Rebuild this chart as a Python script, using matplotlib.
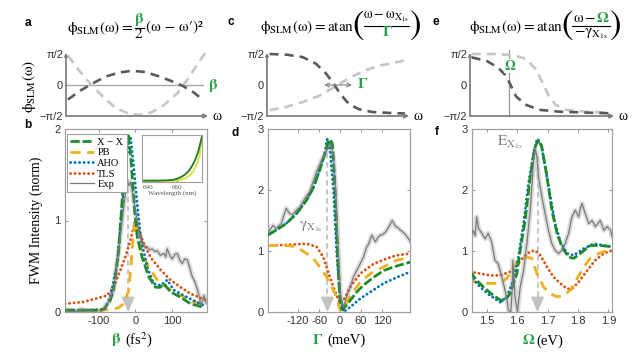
import matplotlib
matplotlib.use('Agg')
import matplotlib.pyplot as plt
from matplotlib.lines import Line2D

plt.rcParams['mathtext.fontset'] = 'custom'
plt.rcParams['mathtext.rm'] = 'STIXGeneral'
plt.rcParams['mathtext.it'] = 'STIXGeneral'
plt.rcParams['mathtext.bf'] = 'STIXGeneral:bold'
plt.rcParams['font.family'] = ['Liberation Sans', 'DejaVu Sans']

W, H = 639, 358
fig = plt.figure(figsize=(W / 100, H / 100), dpi=100)

# ---------------- data: top phase panels (x normalised 0..1, phase in units of pi/2) ----
a_dark_t = [0.014, 0.097, 0.18, 0.287, 0.382, 0.477, 0.572, 0.667, 0.762, 0.846, 0.929, 0.988]
a_dark_v = [-0.47, -0.2, 0.02, 0.27, 0.4, 0.46, 0.42, 0.29, 0.13, -0.03, -0.25, -0.47]
a_light_t = [0.014, 0.097, 0.18, 0.264, 0.359, 0.454, 0.537, 0.62, 0.715, 0.81, 0.881, 0.952, 1.012]
a_light_v = [0.95, 0.46, 0.02, -0.36, -0.74, -0.92, -0.97, -0.88, -0.63, -0.25, 0.18, 0.67, 1.05]

c_dark_t = [0.019, 0.139, 0.258, 0.354, 0.426, 0.486, 0.533, 0.593, 0.665, 0.761, 0.880, 1.0]
c_dark_v = [1.0, 0.98, 0.9, 0.69, 0.38, 0.02, -0.3, -0.61, -0.78, -0.87, -0.9, -0.92]
c_light_t = [0.019, 0.139, 0.258, 0.378, 0.498, 0.593, 0.713, 0.833, 1.0]
c_light_v = [-0.81, -0.71, -0.55, -0.35, -0.04, 0.22, 0.48, 0.64, 0.79]

e_dark_t = [0.012, 0.118, 0.2, 0.259, 0.294, 0.329, 0.4, 0.494, 0.635, 0.824, 0.988]
e_dark_v = [0.89, 0.78, 0.56, 0.29, -0.04, -0.37, -0.64, -0.8, -0.86, -0.89, -0.91]
e_light_t = [0.012, 0.165, 0.306, 0.4, 0.471, 0.518, 0.565, 0.612, 0.682, 0.824, 0.988]
e_light_v = [1.0, 1.0, 0.97, 0.84, 0.51, 0.07, -0.37, -0.64, -0.8, -0.86, -0.89]
e_omega_t = 0.282

# ---------------- data: panel b (beta, fs^2) ----------------
b_xx_x = [-193, -150, -110, -87, -70, -60, -46, -34, -27, -20, -14, -9, -2, 5, 18, 37, 55, 68, 78, 96, 124, 151, 188]
b_xx_y = [0.02, 0.02, 0.02, 0.03, 0.12, 0.24, 0.67, 1.37, 1.7, 1.93, 1.75, 1.48, 1.1, 0.82, 0.6, 0.38, 0.27, 0.27, 0.31, 0.22, 0.16, 0.09, 0.05]
b_aho_x = [-193, -120, -85, -69, -50, -37, -25, -14, -5, 0, 14, 32, 50, 69, 87, 105, 142, 188]
b_aho_y = [0.02, 0.02, 0.03, 0.16, 0.53, 1.11, 1.66, 1.92, 1.6, 1.37, 0.82, 0.49, 0.31, 0.29, 0.35, 0.24, 0.16, 0.07]
b_pb_x = [-193, -100, -60, -45, -32, -18, -9, -2, 9, 23, 41, 60, 78, 96, 124, 160, 193]
b_pb_y = [0.02, 0.02, 0.03, 0.05, 0.09, 0.24, 0.67, 1.0, 0.82, 0.6, 0.46, 0.35, 0.29, 0.24, 0.18, 0.11, 0.08]
b_tls_x = [-193, -142, -105, -78, -60, -41, -28, -14, -2, 9, 23, 41, 69, 96, 124, 151, 193]
b_tls_y = [0.09, 0.11, 0.15, 0.18, 0.27, 0.46, 0.6, 0.78, 0.98, 0.89, 0.75, 0.6, 0.46, 0.35, 0.27, 0.2, 0.13]
b_exp_x = [-193, -180, -165, -150, -135, -120, -105, -95, -85, -75, -60, -46, -32, -23, -18, -14, -9, 0, 9, 18, 25,
           32, 39, 46, 53, 60, 68, 78, 83, 87, 94, 101, 108, 115, 121, 128, 135, 142, 149, 156, 163, 170, 176, 179,
           184, 188, 193]
b_exp_y = [0.03, 0.01, 0.0, 0.03, 0.01, 0.02, -0.02, 0.0, 0.05, 0.1, 0.24, 0.67, 1.15, 1.44, 1.38, 1.42, 1.33, 1.11,
           0.89, 0.75, 0.72, 0.71, 0.68, 0.69, 0.66, 0.67, 0.62, 0.64, 0.6, 0.69, 0.62, 0.58, 0.63, 0.64, 0.57, 0.53,
           0.58, 0.57, 0.48, 0.38, 0.33, 0.24, 0.15, 0.07, 0.12, 0.18, 0.1]
b_arrow = (-20, 1.45)

inset_wl_dark = [635.5, 645, 652, 657, 660, 663, 666, 668.5, 671, 673, 675, 677.6]
inset_dark = [0.03, 0.03, 0.035, 0.045, 0.07, 0.11, 0.17, 0.25, 0.37, 0.5, 0.67, 1.0]
inset_wl_light = [635.5, 650, 657, 661, 664, 667, 670, 672, 674, 676, 677.6]
inset_light = [0.02, 0.02, 0.025, 0.04, 0.06, 0.1, 0.17, 0.26, 0.4, 0.6, 0.98]

# ---------------- data: panel d (Gamma, meV) ----------------
d_xx_x = [-207, -183, -154, -125, -96, -77, -58, -43, -34, -29, -22, -16, -10, -5, 0, 5, 14, 29, 48, 67, 96, 125, 154, 202]
d_xx_y = [1.26, 1.34, 1.45, 1.61, 1.83, 2.03, 2.33, 2.6, 2.79, 2.83, 2.76, 2.22, 1.4, 0.68, 0.19, 0.05, 0.08, 0.19, 0.33, 0.44, 0.57, 0.68, 0.74, 0.82]
d_aho_x = [-207, -183, -154, -125, -96, -77, -58, -43, -37, -30, -19, -10, 0, 10, 29, 58, 87, 125, 163, 202]
d_aho_y = [1.26, 1.34, 1.45, 1.61, 1.83, 2.03, 2.33, 2.62, 2.83, 2.75, 2.03, 1.01, 0.25, 0.0, 0.08, 0.22, 0.33, 0.47, 0.57, 0.66]
d_tls_x = [-207, -154, -96, -67, -48, -29, -14, 0, 10, 29, 58, 96, 135, 163, 202]
d_tls_y = [1.09, 1.1, 1.12, 1.07, 0.9, 0.57, 0.33, 0.14, 0.19, 0.41, 0.63, 0.79, 0.88, 0.93, 0.96]
d_pb_x = [-207, -154, -125, -96, -77, -58, -38, -24, -10, 0, 10, 29, 58, 87, 125, 163, 202]
d_pb_y = [1.09, 1.09, 1.07, 0.96, 0.88, 0.74, 0.57, 0.41, 0.25, 0.03, 0.05, 0.27, 0.49, 0.63, 0.74, 0.85, 0.9]
d_exp_x = [-207, -192, -183, -168, -154, -144, -135, -125, -115, -106, -96, -87, -77, -67, -58, -53, -43, -34, -27,
           -19, -12, -5, 2, 10, 19, 29, 38, 53, 67, 75, 82, 91, 101, 108, 115, 122, 130, 140, 149, 159, 166, 173,
           182, 192, 202]
d_exp_y = [1.29, 1.42, 1.37, 1.45, 1.7, 1.61, 1.6, 1.67, 1.72, 1.81, 1.9, 1.97, 2.13, 2.3, 2.42, 2.49, 2.6, 2.68,
           2.76, 2.55, 1.94, 1.01, 0.25, 0.08, 0.25, 0.41, 0.57, 0.74, 0.9, 1.05, 1.12, 1.26, 1.15, 1.22, 1.26, 1.27,
           1.31, 1.4, 1.5, 1.4, 1.38, 1.34, 1.3, 1.23, 1.15]
d_arrow = (-36, 2.75)

# ---------------- data: panel f (Omega, eV) ----------------
f_xx_x = [1.445, 1.467, 1.489, 1.522, 1.55, 1.56, 1.577, 1.599, 1.61, 1.626, 1.643, 1.659, 1.67, 1.681, 1.698, 1.714, 1.731, 1.747, 1.769, 1.786, 1.808, 1.84, 1.873, 1.912]
f_xx_y = [0.66, 0.52, 0.41, 0.27, 0.18, 0.2, 0.3, 0.63, 1.01, 1.5, 2.22, 2.71, 2.82, 2.71, 2.22, 1.67, 1.29, 1.07, 0.9, 0.88, 0.96, 1.09, 1.09, 1.07]
f_aho_x = [1.445, 1.478, 1.511, 1.544, 1.566, 1.588, 1.604, 1.621, 1.637, 1.654, 1.665, 1.678, 1.692, 1.709, 1.725, 1.742, 1.764, 1.786, 1.819, 1.852, 1.885, 1.912]
f_aho_y = [0.6, 0.41, 0.27, 0.16, 0.25, 0.52, 0.9, 1.45, 2.1, 2.6, 2.83, 2.76, 2.38, 1.89, 1.45, 1.15, 0.96, 0.93, 1.04, 1.12, 1.09, 1.07]
f_tls_x = [1.445, 1.478, 1.511, 1.544, 1.577, 1.599, 1.621, 1.643, 1.659, 1.676, 1.698, 1.72, 1.742, 1.764, 1.78, 1.802, 1.83, 1.857, 1.885, 1.912]
f_tls_y = [0.66, 0.63, 0.6, 0.6, 0.66, 0.77, 0.9, 0.99, 1.01, 0.93, 0.74, 0.57, 0.47, 0.38, 0.38, 0.49, 0.68, 0.85, 0.96, 1.01]
f_pb_x = [1.445, 1.478, 1.511, 1.544, 1.566, 1.588, 1.61, 1.632, 1.648, 1.665, 1.687, 1.709, 1.731, 1.753, 1.775, 1.797, 1.819, 1.84, 1.868, 1.896, 1.912]
f_pb_y = [0.52, 0.47, 0.47, 0.47, 0.55, 0.74, 0.88, 0.9, 0.88, 0.63, 0.41, 0.3, 0.25, 0.27, 0.36, 0.55, 0.74, 0.88, 0.96, 1.01, 1.01]
f_exp_x = [1.445, 1.456, 1.462, 1.467, 1.473, 1.484, 1.495, 1.505, 1.516, 1.527, 1.538, 1.55, 1.56, 1.567, 1.571,
           1.579, 1.583, 1.586, 1.59, 1.593, 1.601, 1.61, 1.621, 1.632, 1.643, 1.654, 1.659, 1.665, 1.67, 1.681,
           1.692, 1.703, 1.714, 1.725, 1.736, 1.747, 1.758, 1.769, 1.78, 1.791, 1.802, 1.808, 1.813, 1.824, 1.835,
           1.846, 1.857, 1.873, 1.885, 1.896, 1.907, 1.912]
f_exp_y = [1.2, 1.34, 1.25, 1.56, 1.37, 1.29, 1.2, 1.29, 1.15, 0.85, 0.79, 0.57, 0.36, 0.2, 0.03, 0.0, 0.3, 0.85, 0.5,
           0.25, 0.0, 0.41, 0.68, 1.12, 1.67, 2.49, 2.68, 2.55, 2.22, 1.89, 1.61, 1.34, 1.12, 1.01, 0.96, 1.01, 1.12,
           1.29, 1.56, 1.67, 1.56, 1.7, 1.78, 1.61, 1.45, 1.5, 1.4, 1.5, 1.34, 1.4, 1.34, 1.23]
f_arrow = (1.667, 2.55)

legend_labels = ['X − X', 'PB', 'AHO', 'TLS', 'Exp']

# ---------------- styles ----------------
C_XX, C_PB, C_AHO, C_TLS, C_EXP = '#1e8a2c', '#EDB120', '#0072BD', '#D95319', '#7a7a7a'
C_GREEN_TXT = '#2aa14a'
SERIF = 'Liberation Serif'
sty = {
    'xx': dict(color=C_XX, lw=2.0, dashes=(3.3, 1.0)),
    'pb': dict(color=C_PB, lw=2.0, dashes=(3.6, 2.4)),
    'aho': dict(color=C_AHO, lw=2.1, dashes=(0.05, 1.5), dash_capstyle='round'),
    'tls': dict(color=C_TLS, lw=2.1, dashes=(0.05, 1.5), dash_capstyle='round'),
    'exp': dict(color=C_EXP, lw=0.9),
}


def fxy(x, y):
    return x / W, 1 - y / H


def T(x, y, s, **kw):
    kw.setdefault('ha', 'center')
    kw.setdefault('va', 'center')
    return fig.text(*fxy(x, y), s, **kw)


def ax_px(x0, y0, x1, y1):
    return fig.add_axes([x0 / W, 1 - y1 / H, (x1 - x0) / W, (y1 - y0) / H])


def hline_px(x0, x1, y, **kw):
    fig.add_artist(Line2D([x0 / W, x1 / W], [1 - y / H, 1 - y / H], transform=fig.transFigure, **kw))


# ---------------- top phase panels ----------------
DARK, LIGHT = '#5a5a5a', '#c6c6c6'
ph_dash = dict(lw=1.9, dashes=(3.4, 2.3))


def phase_axes(x0, x1):
    ax = ax_px(x0, 54, x1, 116)
    ax.set_xlim(0, 1)
    ax.set_ylim(-1, 1)
    for s in ax.spines.values():
        s.set_visible(False)
    ax.set_xticks([])
    ax.set_yticks([-1, 0, 1], ['−π/2', '0', 'π/2'])
    ax.tick_params(axis='y', length=0, pad=2, labelsize=8, labelcolor='#333333')
    ax.patch.set_alpha(0)
    ax.annotate('', xy=(1.03, -1), xytext=(0, -1), xycoords='data',
                arrowprops=dict(arrowstyle='-|>', color='#808080', lw=1.3, mutation_scale=6,
                                shrinkA=0, shrinkB=0), annotation_clip=False)
    ax.annotate('', xy=(0, 1.04), xytext=(0, -1),
                arrowprops=dict(arrowstyle='-|>', color='#808080', lw=1.3, mutation_scale=4,
                                shrinkA=0, shrinkB=0), annotation_clip=False)
    ax.text(1.06, -1, 'ω', fontsize=10, family=SERIF, va='center', ha='left', transform=ax.transData,
            clip_on=False)
    return ax


ax_a = phase_axes(66, 204)
ax_a.plot([0, 0.99], [0, 0], color='#a8a8a8', lw=1.0)
ax_a.plot(a_light_t, a_light_v, color=LIGHT, clip_on=False, **ph_dash)
ax_a.plot(a_dark_t, a_dark_v, color=DARK, clip_on=False, **ph_dash)
ax_a.text(1.03, 0, 'β', color=C_GREEN_TXT, family='STIXGeneral', weight='bold', fontsize=11,
          va='center', ha='left', clip_on=False)

ax_c = phase_axes(267, 405)
ax_c.plot(c_light_t, c_light_v, color=LIGHT, clip_on=False, **ph_dash)
ax_c.plot(c_dark_t, c_dark_v, color=DARK, clip_on=False, **ph_dash)
ax_c.annotate('', xy=(0.617, 0), xytext=(0.414, 0),
              arrowprops=dict(arrowstyle='<->', color='#8a8a8a', lw=0.9, mutation_scale=7,
                              shrinkA=0, shrinkB=0))
ax_c.text(0.655, 0, 'Γ', color=C_GREEN_TXT, family='STIXGeneral', weight='bold', fontsize=11,
          va='center', ha='left')

ax_e = phase_axes(470, 610)
ax_e.plot([e_omega_t, e_omega_t], [-1, 1.12], color='#9a9a9a', lw=0.9, clip_on=False)
ax_e.plot(e_light_t, e_light_v, color=LIGHT, clip_on=False, **ph_dash)
ax_e.plot(e_dark_t, e_dark_v, color=DARK, clip_on=False, **ph_dash)
ax_e.text(e_omega_t, 0.6, 'Ω', color=C_GREEN_TXT, family='STIXGeneral', weight='bold', fontsize=10,
          va='center', ha='center', bbox=dict(fc='white', ec='none', pad=0.3))

T(29, 86, r'$\phi_{\mathrm{SLM}}(\omega)$', rotation=90, fontsize=11)

# ---------------- formulas ----------------
FS = 11
T(133, 28, r'$\phi_{\mathrm{SLM}}(\omega) =$', ha='right', fontsize=FS)
T(139, 19, 'β', color=C_GREEN_TXT, family='STIXGeneral', weight='bold', fontsize=FS)
hline_px(134.5, 143.5, 27.5, color='black', lw=0.8)
T(139, 34, r'$2$', fontsize=FS)
T(146, 27, '(ω − ω′)²', ha='left', family='STIXGeneral', fontsize=FS)

T(354, 27, r'$\phi_{\mathrm{SLM}}(\omega) = \mathrm{atan}$', ha='right', fontsize=FS)
T(358, 26, '(', family='STIXGeneral', fontsize=25)
T(386, 17, r'$\omega - \omega_{\mathrm{X}_{1s}}$', fontsize=10)
hline_px(364, 409, 25.5, color='black', lw=0.8)
T(387, 33, 'Γ', color=C_GREEN_TXT, family='STIXGeneral', weight='bold', fontsize=FS)
T(415, 26, ')', family='STIXGeneral', fontsize=25)

T(563, 27, r'$\phi_{\mathrm{SLM}}(\omega) = \mathrm{atan}$', ha='right', fontsize=FS)
T(567, 26, '(', family='STIXGeneral', fontsize=25)
T(596, 18, r'$\omega -$', ha='right', fontsize=FS)
T(597, 18, 'Ω', ha='left', color=C_GREEN_TXT, family='STIXGeneral', weight='bold', fontsize=FS)
hline_px(572, 610, 26, color='black', lw=0.8)
T(591, 34, r'$-\gamma_{\mathrm{X}_{1s}}$', fontsize=FS)
T(615, 26, ')', family='STIXGeneral', fontsize=25)

# ---------------- bottom panels ----------------
def base_axes(x0, x1, xlim, ylim, xticks, yticks):
    ax = ax_px(x0, 129, x1, 312)
    ax.set_xlim(*xlim)
    ax.set_ylim(*ylim)
    for s in ax.spines.values():
        s.set_color('#a0a0a0')
        s.set_linewidth(0.9)
    ax.set_xticks(xticks, [str(t) for t in xticks])
    ax.set_yticks(yticks)
    ax.tick_params(direction='in', length=2.5, width=0.7, color='#909090', top=True, right=True,
                   labelsize=8, labelcolor='#333333', pad=3)
    return ax


def draw_models(ax, data, arrow):
    (xx_x, xx_y), (pb_x, pb_y), (aho_x, aho_y), (tls_x, tls_y), (ex_x, ex_y) = data
    top = ax.get_ylim()[1]
    ax.plot(ex_x, ex_y, color='#dcdcdc', lw=3.6, solid_joinstyle='round', solid_capstyle='round', zorder=1)
    ax.plot([arrow[0], arrow[0]], [arrow[1], 0.05 * top], color='#c2c2c2', lw=1.3,
            dashes=(3, 2), zorder=1.5)
    ax.annotate('', xy=(arrow[0], 0), xytext=(arrow[0], 0.07 * top),
                arrowprops=dict(arrowstyle='-|>,head_width=0.4,head_length=0.9', color='#c2c2c2',
                                lw=1.2, mutation_scale=10, shrinkA=0, shrinkB=0), zorder=1.6)
    ax.plot(tls_x, tls_y, zorder=2, **sty['tls'])
    ax.plot(pb_x, pb_y, zorder=2.2, **sty['pb'])
    ax.plot(aho_x, aho_y, zorder=2.4, **sty['aho'])
    ax.plot(xx_x, xx_y, zorder=2.6, **sty['xx'])
    ax.plot(ex_x, ex_y, zorder=3, **sty['exp'])


ax_b = base_axes(65, 207, (-193, 196), (0, 2), [-100, 0, 100], [0, 1, 2])
draw_models(ax_b, [(b_xx_x, b_xx_y), (b_pb_x, b_pb_y), (b_aho_x, b_aho_y), (b_tls_x, b_tls_y),
                   (b_exp_x, b_exp_y)], b_arrow)
ax_b.set_ylabel('FWM Intensity (norm)', family=SERIF, fontsize=10, labelpad=8)

handles = [Line2D([], [], **sty['xx']), Line2D([], [], **sty['pb']), Line2D([], [], **sty['aho']),
           Line2D([], [], **sty['tls']), Line2D([], [], **sty['exp'])]
leg = ax_b.legend(handles, legend_labels, loc='upper left', bbox_to_anchor=(0.015, 0.97),
                  prop=dict(family=SERIF, size=7.5), handlelength=2.3, handletextpad=0.3,
                  labelspacing=0.12, borderpad=0.3, borderaxespad=0, fancybox=False,
                  edgecolor='#a0a0a0', framealpha=1)
leg.get_frame().set_linewidth(0.8)
leg.set_zorder(5)

ins = ax_px(142, 135, 202, 182)
ins.set_xlim(635.5, 677.6)
ins.set_ylim(0, 1.03)
ins.plot(inset_wl_light, inset_light, color='#dede3a', lw=1.3)
ins.plot(inset_wl_dark, inset_dark, color='#1f7a1f', lw=1.3)
ins.set_yticks([])
ins.set_xticks([640, 660], ['640', '660'])
ins.tick_params(axis='x', direction='in', length=1.5, labelsize=5, pad=2, colors='#555555')
for lbl in ins.get_xticklabels():
    lbl.set_family(SERIF)
ins.set_xlabel('Wavelength (nm)', family=SERIF, fontsize=5, labelpad=0, color='#555555')
for s in ins.spines.values():
    s.set_color('#a0a0a0')
    s.set_linewidth(0.8)

ax_d = base_axes(268, 410, (-206, 200), (0, 3), [-120, -60, 0, 60, 120], [0, 1, 2, 3])
draw_models(ax_d, [(d_xx_x, d_xx_y), (d_pb_x, d_pb_y), (d_aho_x, d_aho_y), (d_tls_x, d_tls_y),
                   (d_exp_x, d_exp_y)], d_arrow)
ax_d.text(-117, 1.4, r'$\gamma_{\mathrm{X}_{1s}}$', color='#7a7a7a', fontsize=11, va='center', ha='left')

ax_f = base_axes(471.5, 611.5, (1.45, 1.91), (0, 3), [1.5, 1.6, 1.7, 1.8, 1.9], [0, 1, 2, 3])
draw_models(ax_f, [(f_xx_x, f_xx_y), (f_pb_x, f_pb_y), (f_aho_x, f_aho_y), (f_tls_x, f_tls_y),
                   (f_exp_x, f_exp_y)], f_arrow)
ax_f.text(1.535, 2.78, r'$\mathrm{E}_{\mathrm{X}_{1s}}$', color='#7a7a7a', fontsize=11, va='center', ha='left')

# x labels
T(120, 340, 'β', color=C_GREEN_TXT, family='STIXGeneral', weight='bold', fontsize=11, ha='right')
T(125, 340, r'(fs$^2$)', family=SERIF, fontsize=10.5, ha='left')
T(322, 340, 'Γ', color=C_GREEN_TXT, family='STIXGeneral', weight='bold', fontsize=11, ha='right')
T(327, 340, '(meV)', family=SERIF, fontsize=10.5, ha='left')
T(534, 341, 'Ω', color=C_GREEN_TXT, family='STIXGeneral', weight='bold', fontsize=11, ha='right')
T(536, 341, '(eV)', family=SERIF, fontsize=10.5, ha='left')

# panel letters
for lt, x, y in [('a', 28, 23), ('c', 231, 22), ('e', 436, 22), ('b', 28, 125), ('d', 235, 133), ('f', 437, 132)]:
    T(x, y, lt, fontsize=8.5, weight='bold')

fig.savefig('out.png', dpi=100)
